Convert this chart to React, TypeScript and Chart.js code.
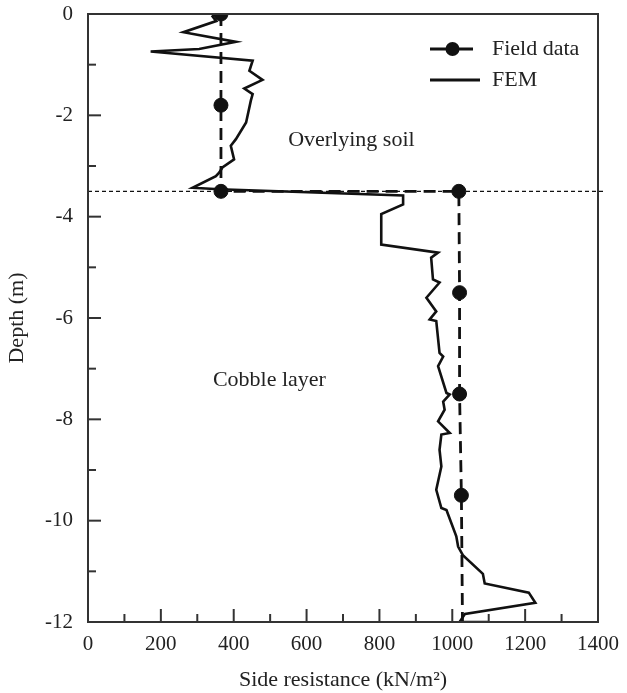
import React, { useEffect, useRef } from "react";
import { Chart, registerables } from "chart.js";

Chart.register(...registerables);

// ---- Data ----
const fieldResistance = [365, 365, 365, 1018, 1020, 1020, 1025, 1028];
const fieldDepth = [0, -1.8, -3.5, -3.5, -5.5, -7.5, -9.5, -12];
const fieldMarker = [7, 7, 7, 7, 7, 7, 7, 0];

const femResistance = [
  350, 342, 352, 262, 406, 305, 172, 452, 443, 479, 429, 452, 447, 434, 406, 392,
  401, 369, 360, 351, 287, 360, 865, 865, 805, 805, 961, 942, 947, 965, 929, 956,
  938, 956, 965, 975, 961, 984, 993, 975, 979, 961, 993, 970, 965, 970, 956, 970,
  984, 1011, 1016, 1029, 1084, 1089, 1210, 1228, 1035, 1020, 1100,
];
const femDepth = [
  0, -0.05, -0.14, -0.36, -0.55, -0.69, -0.74, -0.92, -1.12, -1.3, -1.47, -1.58,
  -1.71, -2.14, -2.47, -2.6, -2.87, -3.03, -3.13, -3.2, -3.43, -3.46, -3.58, -3.76,
  -3.95, -4.55, -4.71, -4.81, -5.24, -5.3, -5.6, -5.87, -6.03, -6.06, -6.69, -6.76,
  -6.95, -7.48, -7.51, -7.65, -7.81, -8.04, -8.27, -8.3, -8.6, -8.93, -9.39, -9.75,
  -9.79, -10.31, -10.51, -10.68, -11.05, -11.24, -11.42, -11.62, -11.84, -12, -12,
];

const interfaceResistance = [0, 1415];
const interfaceDepth = [-3.5, -3.5];

const seriesNames = ["Field data", "FEM"];
const layerLabels = ["Overlying soil", "Cobble layer"];
const layerLabelX = [723, 498];
const layerLabelY = [-2.49, -7.22];

const xMin = 0;
const xMax = 1400;
const xStep = 200;
const xMinorStep = 100;
const yMin = -12;
const yMax = 0;
const yStep = 2;
const yMinorStep = 1;

const xTitle = "Side resistance (kN/m\u00B2)";
const yTitle = "Depth (m)";

const FONT = "'Liberation Serif', 'Times New Roman', serif";
const INK = "#111";
const TEXT = "#222";
const FRAME = "#333";

const toPoints = (xs: number[], ys: number[]) => xs.map((x, i) => ({ x, y: ys[i] }));

const zeroPad = (s: any) => {
  s.paddingTop = 0;
  s.paddingBottom = 0;
  s.paddingLeft = 0;
  s.paddingRight = 0;
};

const framePlugin = {
  id: "frame",
  afterDatasetsDraw(chart: any) {
    const { ctx, chartArea } = chart;
    const xs = chart.scales.x;
    const ys = chart.scales.y;
    ctx.save();
    ctx.strokeStyle = FRAME;
    ctx.lineWidth = 2;
    ctx.strokeRect(chartArea.left, chartArea.top, chartArea.right - chartArea.left, chartArea.bottom - chartArea.top);
    // inward ticks, x axis
    for (let v = xMin; v <= xMax; v += xMinorStep) {
      const px = xs.getPixelForValue(v);
      const len = v % xStep === 0 ? 13 : 8;
      ctx.beginPath();
      ctx.moveTo(px, chartArea.bottom);
      ctx.lineTo(px, chartArea.bottom - len);
      ctx.stroke();
    }
    // inward ticks, y axis
    for (let v = yMax; v >= yMin; v -= yMinorStep) {
      const py = ys.getPixelForValue(v);
      const len = v % yStep === 0 ? 13 : 8;
      ctx.beginPath();
      ctx.moveTo(chartArea.left, py);
      ctx.lineTo(chartArea.left + len, py);
      ctx.stroke();
    }
    // layer labels
    ctx.fillStyle = TEXT;
    ctx.font = `22px ${FONT}`;
    ctx.textAlign = "center";
    ctx.textBaseline = "middle";
    layerLabels.forEach((t, i) => {
      ctx.fillText(t, xs.getPixelForValue(layerLabelX[i]), ys.getPixelForValue(layerLabelY[i]));
    });
    // legend
    const lx0 = 430;
    const rows = [49, 80];
    ctx.strokeStyle = INK;
    ctx.lineWidth = 3;
    rows.forEach((ry, i) => {
      ctx.beginPath();
      ctx.moveTo(lx0, ry);
      ctx.lineTo(i === 0 ? 473 : 480, ry);
      ctx.stroke();
      if (i === 0) {
        ctx.beginPath();
        ctx.fillStyle = INK;
        ctx.arc((lx0 + 473) / 2 + 1, ry, 7, 0, Math.PI * 2);
        ctx.fill();
      }
      ctx.fillStyle = TEXT;
      ctx.textAlign = "left";
      ctx.textBaseline = "middle";
      ctx.fillText(seriesNames[i], 492, ry);
    });
    ctx.restore();
  },
};

export default function App() {
  const ref = useRef<HTMLCanvasElement | null>(null);

  useEffect(() => {
    if (!ref.current) return;
    const chart = new Chart(ref.current, {
      type: "scatter",
      data: {
        datasets: [
          {
            label: seriesNames[0],
            data: toPoints(fieldResistance, fieldDepth),
            showLine: true,
            borderColor: INK,
            backgroundColor: INK,
            borderWidth: 2.8,
            borderDash: [12, 7],
            pointRadius: fieldMarker,
            pointBackgroundColor: INK,
            pointBorderColor: INK,
            pointBorderWidth: 1,
            tension: 0,
          },
          {
            label: seriesNames[1],
            data: toPoints(femResistance, femDepth),
            showLine: true,
            borderColor: INK,
            borderWidth: 2.6,
            pointRadius: 0,
            tension: 0,
          },
          {
            label: "interface",
            data: toPoints(interfaceResistance, interfaceDepth),
            showLine: true,
            borderColor: INK,
            borderWidth: 1.2,
            borderDash: [4, 3],
            pointRadius: 0,
            clip: false as any,
          },
        ],
      },
      options: {
        animation: false,
        responsive: false,
        maintainAspectRatio: false,
        layout: { padding: { left: 0, right: 29, top: 14, bottom: 0 } },
        plugins: { legend: { display: false }, tooltip: { enabled: false } },
        scales: {
          x: {
            type: "linear",
            min: xMin,
            max: xMax,
            afterFit: (s: any) => {
              s.height = 71;
              zeroPad(s);
            },
            grid: { display: false, drawTicks: false },
            border: { display: false },
            ticks: {
              stepSize: xStep,
              padding: 10,
              color: TEXT,
              font: { family: FONT, size: 21 },
              callback: (v: any) => String(v),
            },
            title: {
              display: true,
              text: xTitle,
              color: TEXT,
              font: { family: FONT, size: 22 },
              padding: { top: 0, bottom: 0 },
            },
          },
          y: {
            type: "linear",
            min: yMin,
            max: yMax,
            afterFit: (s: any) => {
              s.width = 88;
              zeroPad(s);
            },
            grid: { display: false, drawTicks: false },
            border: { display: false },
            ticks: {
              stepSize: yStep,
              padding: 15,
              color: TEXT,
              font: { family: FONT, size: 21 },
              callback: (v: any) => String(v),
            },
            title: {
              display: true,
              text: yTitle,
              color: TEXT,
              font: { family: FONT, size: 22 },
              padding: { top: 4, bottom: 0 },
            },
          },
        },
      },
      plugins: [framePlugin],
    } as any);
    return () => chart.destroy();
  }, []);

  return (
    <div style={{ position: "absolute", left: 0, top: 0, width: 627, height: 693, background: "#fff" }}>
      <canvas ref={ref} width={627} height={693} style={{ display: "block", width: 627, height: 693 }} />
    </div>
  );
}
